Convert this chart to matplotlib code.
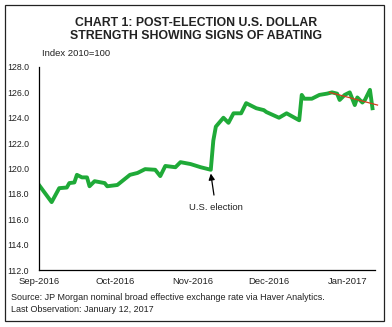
import pandas as pd
import numpy as np
import matplotlib.pyplot as plt
import matplotlib.dates as mdates
from matplotlib.patches import Rectangle

plt.rcParams['font.family'] = ['Liberation Sans', 'DejaVu Sans']

# JP Morgan nominal broad effective exchange rate, Index 2010=100
dates = ['2016-09-01', '2016-09-06', '2016-09-09', '2016-09-12', '2016-09-13',
         '2016-09-15', '2016-09-16', '2016-09-18', '2016-09-20', '2016-09-21',
         '2016-09-23', '2016-09-27', '2016-09-28', '2016-10-02', '2016-10-07',
         '2016-10-10', '2016-10-13', '2016-10-17', '2016-10-19', '2016-10-21',
         '2016-10-25', '2016-10-27', '2016-10-31', '2016-11-04', '2016-11-08',
         '2016-11-09', '2016-11-10', '2016-11-13', '2016-11-15', '2016-11-17',
         '2016-11-20', '2016-11-22', '2016-11-26', '2016-11-29', '2016-11-30',
         '2016-12-05', '2016-12-08', '2016-12-13', '2016-12-14', '2016-12-15',
         '2016-12-18', '2016-12-21', '2016-12-24', '2016-12-26', '2016-12-28',
         '2016-12-29', '2016-12-31', '2017-01-02', '2017-01-04', '2017-01-05',
         '2017-01-07', '2017-01-08', '2017-01-10', '2017-01-11']
values = [118.7, 117.35, 118.45, 118.5, 118.85,
          118.9, 119.5, 119.3, 119.3, 118.6,
          119.0, 118.85, 118.6, 118.7, 119.5,
          119.65, 119.95, 119.9, 119.4, 120.2,
          120.1, 120.5, 120.35, 120.1, 119.9,
          122.2, 123.3, 124.0, 123.6, 124.35,
          124.35, 125.15, 124.75, 124.6, 124.45,
          124.0, 124.35, 123.8, 125.8, 125.5,
          125.5, 125.8, 125.9, 126.0, 125.9,
          125.4, 125.8, 126.0, 125.0, 125.6,
          125.2, 125.4, 126.2, 124.75]

# post-election trend
trend_dates = ['2016-12-25', '2017-01-13']
trend_values = [126.0, 125.0]

election_date = '2016-11-08'
election_value = 119.9

month_ticks = ['2016-09-01', '2016-10-01', '2016-11-01', '2016-12-01', '2017-01-01']
y_ticks = [112, 114, 116, 118, 120, 122, 124, 126, 128]

x = pd.to_datetime(dates)

fig = plt.figure(figsize=(3.92, 3.27), dpi=100)
ax = fig.add_axes([39/392, 1 - 270/327, (375 - 39)/392, (270 - 67)/327])

ax.plot(x, values, color='#1faa38', lw=2.8, solid_joinstyle='round')
ax.plot(pd.to_datetime(trend_dates), trend_values, color='#d23c1e', lw=0.9, clip_on=False)

ax.set_ylim(112, 128)
ax.set_xlim(pd.Timestamp('2016-09-01'), pd.Timestamp('2017-01-12'))
ax.set_yticks(y_ticks)
ax.set_yticklabels(['%.1f' % v for v in y_ticks], fontsize=6.3, color='#222222')
ax.set_xticks(pd.to_datetime(month_ticks))
ax.xaxis.set_major_formatter(mdates.DateFormatter('%b-%Y'))
ax.tick_params(axis='x', length=0, pad=5, labelsize=6.8, labelcolor='#222222')
ax.tick_params(axis='y', length=0, pad=7)
for s in ['top', 'right']:
    ax.spines[s].set_visible(False)
for s in ['left', 'bottom']:
    ax.spines[s].set_linewidth(0.9)

ax.annotate('U.S. election', xy=(pd.Timestamp(election_date), election_value - 0.3),
            xytext=(pd.Timestamp('2016-11-10'), 116.9), fontsize=6.8,
            ha='center', va='center', color='#222222',
            arrowprops=dict(arrowstyle='-|>', color='black', lw=0.9,
                            mutation_scale=9, shrinkA=4, shrinkB=0))

fig.text(0.5, 1 - 23/327, 'CHART 1: POST-ELECTION U.S. DOLLAR', ha='center', va='center',
         fontsize=8.8, fontweight='bold', color='#222222')
fig.text(0.5, 1 - 36/327, 'STRENGTH SHOWING SIGNS OF ABATING', ha='center', va='center',
         fontsize=8.8, fontweight='bold', color='#222222')
fig.text(42/392, 1 - 54/327, 'Index 2010=100', ha='left', va='center', fontsize=6.8, color='#222222')
fig.text(11/392, 1 - 298/327, 'Source: JP Morgan nominal broad effective exchange rate via Haver Analytics.',
         ha='left', va='center', fontsize=6.5, color='#222222')
fig.text(11/392, 1 - 309/327, 'Last Observation: January 12, 2017',
         ha='left', va='center', fontsize=6.5, color='#222222')

fig.patches.append(Rectangle((5/392, 1 - 321/327), 379/392, 316/327, transform=fig.transFigure,
                             fill=False, edgecolor='#222222', lw=0.9))

fig.savefig('out.png', dpi=100)
